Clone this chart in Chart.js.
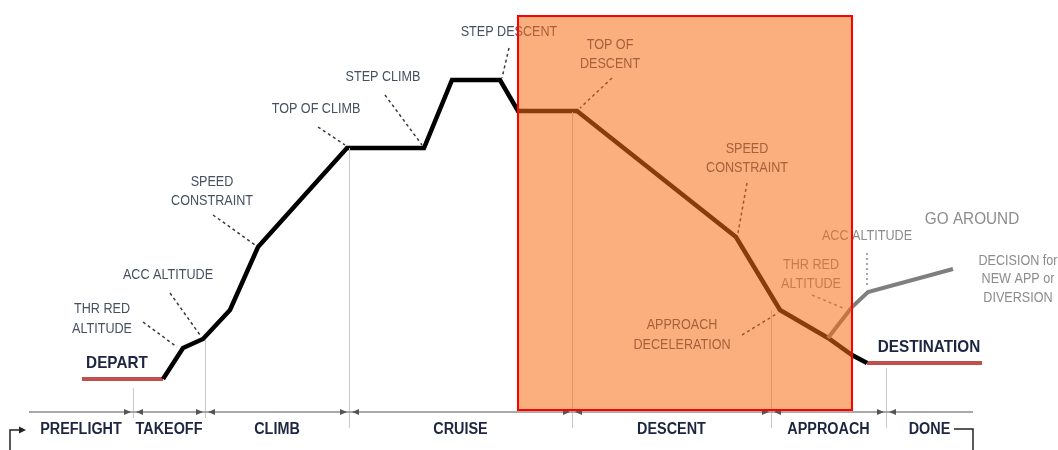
<!DOCTYPE html>
<html>
<head>
<meta charset="utf-8">
<script src="https://cdn.jsdelivr.net/npm/chart.js@4.4.1/dist/chart.umd.min.js"></script>
<style>
  html, body { margin: 0; padding: 0; background: #fff; }
  #wrap { width: 1058px; height: 450px; position: relative; }
</style>
</head>
<body>
<div id="wrap"><canvas id="perfil"></canvas></div>
<script>
// perfil de voo (distancia, altitude) em unidades do desenho
const profileDist = [163, 183, 203, 230, 258, 347, 424, 452, 500, 518, 577, 736, 780, 828, 852, 867];
const profileAlt  = [71, 102, 111, 140, 203, 302, 302, 370, 370, 339, 339, 213, 140, 112, 95, 87];
const departDist = [82, 163];
const departAlt  = [71, 71];
const destDist = [867, 982];
const destAlt  = [87, 87];
const goAroundDist = [828, 852, 868, 953];
const goAroundAlt  = [112, 143, 158, 181];
// fases
const phaseNames  = ['PREFLIGHT', 'TAKEOFF', 'CLIMB', 'CRUISE', 'DESCENT', 'APPROACH', 'DONE'];
const phaseBounds = [29, 133, 205, 349, 572, 771, 886, 973];

const FONT = '"Liberation Sans", Arial, sans-serif';
const ESTREITO = 0.9; // a fonte original e mais estreita
const pts = (xs, ys) => xs.map((x, i) => ({ x: x, y: ys[i] }));

const anotacoes = {
    id: 'anotacoes',
    afterDraw(chart) {
        const ctx = chart.ctx;
        const X = v => chart.scales.x.getPixelForValue(v);
        const Y = v => chart.scales.y.getPixelForValue(v);
        ctx.save();

        function escreve(t, px, py) {
            ctx.save();
            ctx.translate(px, py);
            ctx.scale(ESTREITO, 1);
            ctx.fillText(t, 0, 0);
            ctx.restore();
        }

        // linhas verticais das fases
        ctx.strokeStyle = '#c8c8c8';
        ctx.lineWidth = 1;
        [[133, 62, 32], [205, 110, 32], [349, 302, 22], [572, 338, 22], [771, 140, 22], [886, 82, 22]].forEach(v => {
            ctx.beginPath();
            ctx.moveTo(X(v[0]) + 0.5, Y(v[1]));
            ctx.lineTo(X(v[0]) + 0.5, Y(v[2]));
            ctx.stroke();
        });

        // linha das fases com setas
        const ya = Y(38);
        ctx.strokeStyle = '#8c8c8c';
        ctx.lineWidth = 1.5;
        ctx.beginPath();
        ctx.moveTo(X(phaseBounds[0]), ya);
        ctx.lineTo(X(phaseBounds[phaseBounds.length - 1]), ya);
        ctx.stroke();
        ctx.fillStyle = '#555';
        function seta(x, dir) {
            ctx.beginPath();
            ctx.moveTo(x, ya);
            ctx.lineTo(x - dir * 7, ya - 3);
            ctx.lineTo(x - dir * 7, ya + 3);
            ctx.closePath();
            ctx.fill();
        }
        phaseBounds.slice(1, -1).forEach(b => {
            seta(X(b) - 2, 1);
            seta(X(b) + 3, -1);
        });

        // nomes das fases
        ctx.fillStyle = '#1c2640';
        ctx.font = 'bold 16px ' + FONT;
        ctx.textAlign = 'center';
        ctx.textBaseline = 'middle';
        phaseNames.forEach((n, i) => {
            escreve(n, X((phaseBounds[i] + phaseBounds[i + 1]) / 2), Y(20));
        });

        // colchetes
        ctx.strokeStyle = '#222';
        ctx.fillStyle = '#222';
        ctx.lineWidth = 1.5;
        ctx.beginPath();
        ctx.moveTo(X(10), Y(0));
        ctx.lineTo(X(10), Y(20));
        ctx.lineTo(X(20), Y(20));
        ctx.stroke();
        ctx.beginPath();
        ctx.moveTo(X(26), Y(20));
        ctx.lineTo(X(19), Y(20) - 3.5);
        ctx.lineTo(X(19), Y(20) + 3.5);
        ctx.closePath();
        ctx.fill();
        ctx.beginPath();
        ctx.moveTo(X(954), Y(21));
        ctx.lineTo(X(973), Y(21));
        ctx.lineTo(X(973), Y(0));
        ctx.stroke();

        // tracejados
        function traco(a, cor, dash) {
            ctx.strokeStyle = cor;
            ctx.lineWidth = 1.5;
            ctx.setLineDash(dash || [3, 3]);
            ctx.beginPath();
            ctx.moveTo(X(a[0]), Y(a[1]));
            ctx.lineTo(X(a[2]), Y(a[3]));
            ctx.stroke();
        }
        const escuro = '#3c3c3c';
        traco([143, 128, 177, 103], escuro);
        traco([170, 157, 200, 115], escuro);
        traco([213, 235, 255, 205], escuro);
        traco([318, 323, 345, 305], escuro);
        traco([385, 355, 422, 305], escuro);
        traco([509, 402, 502, 372], escuro);
        traco([612, 372, 580, 342], escuro);
        traco([747, 267, 738, 217], escuro);
        traco([742, 115, 778, 137], escuro);
        traco([812, 155, 843, 142], '#8a8a8a');
        traco([867, 197, 867, 165], '#8a8a8a', [2, 3]);
        ctx.setLineDash([]);

        // textos
        function texto(linhas, x, y, cor, fonte, passo) {
            ctx.fillStyle = cor;
            ctx.font = fonte;
            ctx.textAlign = 'center';
            ctx.textBaseline = 'middle';
            linhas.forEach((l, i) => escreve(l, X(x), Y(y) + i * (passo || 19)));
        }
        const cinzaAzul = '#46505f';
        const normal = '14px ' + FONT;
        texto(['THR RED', 'ALTITUDE'], 102, 141, cinzaAzul, normal, 20);
        texto(['ACC ALTITUDE'], 168, 175, cinzaAzul, normal);
        texto(['SPEED', 'CONSTRAINT'], 212, 268, cinzaAzul, normal);
        texto(['TOP OF CLIMB'], 316, 341, cinzaAzul, normal);
        texto(['STEP CLIMB'], 383, 373, cinzaAzul, normal);
        texto(['STEP DESCENT'], 509, 418, cinzaAzul, normal);
        texto(['TOP OF', 'DESCENT'], 610, 405, cinzaAzul, normal);
        texto(['SPEED', 'CONSTRAINT'], 747, 301, cinzaAzul, normal);
        texto(['APPROACH', 'DECELERATION'], 682, 125, cinzaAzul, normal, 20);
        texto(['THR RED', 'ALTITUDE'], 811, 185, '#8c8c8c', normal);
        texto(['ACC ALTITUDE'], 867, 214, '#8c8c8c', normal);
        texto(['GO AROUND'], 972, 231, '#8c8c8c', '17px ' + FONT);
        texto(['DECISION for', 'NEW APP or', 'DIVERSION'], 1018, 189, '#8c8c8c', normal, 18.5);
        texto(['DEPART'], 117, 87, '#1c2640', 'bold 17px ' + FONT);
        texto(['DESTINATION'], 929, 103, '#1c2640', 'bold 17px ' + FONT);

        // caixa da descida
        const bx = X(518), by = Y(434), bw = X(852) - X(518), bh = Y(40) - Y(434);
        ctx.fillStyle = 'rgba(247, 109, 22, 0.55)';
        ctx.fillRect(bx, by, bw, bh);
        ctx.strokeStyle = '#ff0000';
        ctx.lineWidth = 2;
        ctx.strokeRect(bx, by, bw, bh);
        ctx.restore();
    }
};

const linha = (data, cor, w) => ({
    data: data,
    borderColor: cor,
    borderWidth: w,
    pointRadius: 0,
    tension: 0,
    fill: false,
    showLine: true
});

new Chart(document.getElementById('perfil'), {
    type: 'scatter',
    data: {
        datasets: [
            linha(pts(goAroundDist, goAroundAlt), '#7f7f7f', 4),
            linha(pts(profileDist, profileAlt), '#000000', 4.5),
            linha(pts(departDist, departAlt), '#c0504d', 4),
            linha(pts(destDist, destAlt), '#c0504d', 4)
        ]
    },
    options: {
        responsive: true,
        maintainAspectRatio: false,
        animation: false,
        layout: { padding: 0 },
        plugins: { legend: { display: false }, tooltip: { enabled: false } },
        scales: {
            x: { type: 'linear', min: 0, max: 1058, display: false },
            y: { type: 'linear', min: 0, max: 450, display: false }
        }
    },
    plugins: [anotacoes]
});
</script>
</body>
</html>
